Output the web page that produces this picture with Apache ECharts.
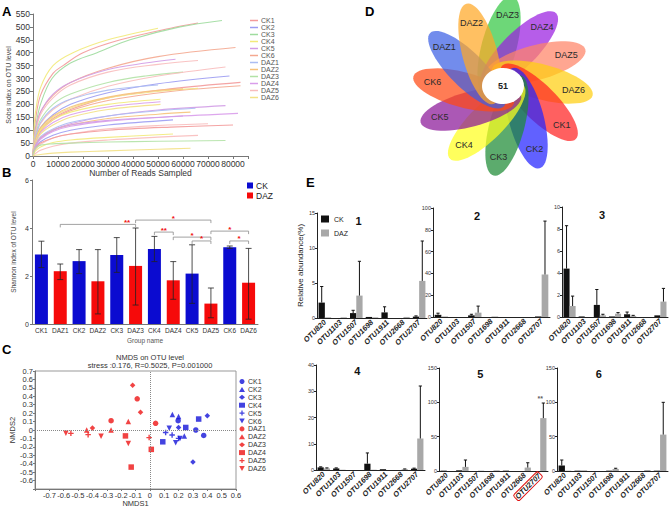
<!DOCTYPE html>
<html>
<head>
<meta charset="utf-8">
<script src="https://cdn.jsdelivr.net/npm/echarts@6/dist/echarts.min.js"></script>
<style>
  html, body { margin: 0; padding: 0; background: #fff; }
  #main { width: 669px; height: 507px; }
</style>
</head>
<body>
<div id="main"></div>
<script>
// ---- A: rarefaction curves ----
const GROUPS = ['CK1', 'CK2', 'CK3', 'CK4', 'CK5', 'CK6', 'DAZ1', 'DAZ2', 'DAZ3', 'DAZ4', 'DAZ5', 'DAZ6'];
const RARE_COLORS = ['#f39a9a', '#9c9cf2', '#9fdc9f', '#f2ea7a', '#d29ce6', '#f4a890',
  '#abbdf2', '#f6c27a', '#b2e2a6', '#d99deb', '#f8bcbc', '#f3e186'];
const RARE_CURVES = [
  ['CK1', [[0, 0], [500, 95], [1000, 140], [3000, 235], [8000, 320], [12000, 350], [20000, 400], [35000, 450], [55000, 495], [66000, 515]]],
  ['CK4', [[0, 0], [500, 120], [1000, 170], [3000, 265], [8000, 350], [16000, 400], [30000, 450], [50000, 495]]],
  ['CK3', [[0, 0], [500, 70], [1000, 110], [3000, 200], [7600, 300], [15000, 360], [25600, 400], [38800, 450], [58800, 500], [75600, 525]]],
  ['CK6', [[0, 0], [500, 65], [1000, 100], [3000, 170], [8000, 235], [15000, 285], [30000, 340], [50000, 385], [81000, 420]]],
  ['CK5', [[0, 0], [500, 65], [1000, 100], [3000, 170], [8000, 240], [15000, 285], [30000, 335], [45000, 360], [57000, 375]]],
  ['DAZ5', [[0, 0], [500, 58], [1000, 90], [3000, 160], [8000, 225], [15000, 275], [30000, 325], [50000, 355], [66000, 370]]],
  ['DAZ3', [[0, 0], [500, 52], [1000, 80], [3000, 140], [8000, 200], [15000, 240], [30000, 285], [45000, 310], [60000, 325]]],
  ['DAZ5', [[0, 0], [500, 45], [1000, 70], [3000, 125], [8000, 180], [15000, 220], [30000, 270], [50000, 310], [77000, 345]]],
  ['CK2', [[0, 0], [500, 38], [1000, 60], [3000, 110], [8000, 160], [15000, 200], [30000, 245], [50000, 280], [78600, 310]]],
  ['DAZ1', [[0, 0], [500, 45], [1000, 70], [3000, 130], [8000, 185], [15000, 220], [30000, 255], [50000, 275]]],
  ['CK1', [[0, 0], [500, 35], [1000, 55], [3000, 100], [8000, 145], [15000, 180], [30000, 225], [55000, 260], [83000, 285]]],
  ['CK6', [[0, 0], [500, 32], [1000, 50], [3000, 95], [8000, 140], [15000, 175], [30000, 215], [55000, 250], [83000, 272]]],
  ['DAZ6', [[0, 0], [500, 38], [1000, 60], [3000, 105], [8000, 150], [15000, 185], [30000, 225], [50000, 250], [66000, 262]]],
  ['DAZ2', [[0, 0], [500, 42], [1000, 65], [3000, 110], [8000, 155], [15000, 190], [30000, 228], [45000, 250], [60000, 260]]],
  ['CK4', [[0, 0], [500, 35], [1000, 55], [3000, 100], [8000, 140], [15000, 170], [30000, 200], [51000, 220]]],
  ['DAZ4', [[0, 0], [500, 32], [1000, 50], [3000, 90], [8000, 130], [15000, 160], [30000, 190], [51000, 210]]],
  ['DAZ6', [[0, 0], [500, 28], [1000, 45], [3000, 85], [8000, 120], [15000, 150], [30000, 180], [51000, 200]]],
  ['CK5', [[0, 0], [500, 25], [1000, 40], [3000, 70], [8000, 100], [15000, 125], [30000, 155], [50000, 178], [77000, 195]]],
  ['DAZ1', [[0, 0], [500, 25], [1000, 40], [3000, 75], [8000, 105], [15000, 130], [30000, 155], [50000, 175], [65000, 185]]],
  ['DAZ2', [[0, 0], [500, 25], [1000, 40], [3000, 70], [8000, 100], [15000, 120], [30000, 145], [50000, 162], [63000, 170]]],
  ['DAZ4', [[0, 0], [500, 22], [1000, 35], [3000, 65], [8000, 95], [15000, 115], [30000, 135], [55000, 152], [82000, 165]]],
  ['CK5', [[0, 0], [500, 25], [1000, 40], [3000, 70], [8000, 100], [15000, 120], [30000, 138], [60000, 155]]],
  ['CK2', [[0, 0], [500, 18], [1000, 30], [3000, 55], [8000, 80], [15000, 100], [30000, 120], [56000, 140]]],
  ['DAZ5', [[0, 0], [500, 15], [1000, 25], [3000, 45], [8000, 70], [15000, 85], [30000, 105], [50000, 118], [70000, 125]]],
  ['CK1', [[0, 0], [500, 18], [1000, 30], [3000, 50], [8000, 70], [15000, 85], [30000, 100], [55000, 112], [80000, 120]]],
  ['CK4', [[0, 0], [500, 12], [1000, 20], [3000, 35], [8000, 52], [15000, 62], [30000, 72], [56000, 85]]],
  ['DAZ5', [[0, 0], [500, 6], [1000, 10], [3000, 22], [8000, 38], [15000, 50], [30000, 62], [50000, 73], [66000, 80]]],
  ['DAZ3', [[0, 0], [500, 20], [1000, 30], [3000, 42], [8000, 47], [15000, 50], [30000, 54], [50000, 57], [77000, 60]]],
  ['DAZ6', [[0, 0], [500, 2], [1000, 3], [3000, 6], [8000, 11], [15000, 15], [30000, 20], [50000, 26], [63000, 30]]]
];

// ---- B: Shannon index ----
const B_CATS = ['CK1', 'DAZ1', 'CK2', 'DAZ2', 'CK3', 'DAZ3', 'CK4', 'DAZ4', 'CK5', 'DAZ5', 'CK6', 'DAZ6'];
const B_MEAN = [2.9, 2.2, 2.62, 1.78, 2.88, 2.42, 3.12, 1.82, 2.1, 0.85, 3.2, 1.72];
const B_LOW = [2.35, 1.85, 2.1, 0.42, 2.15, 0.79, 2.6, 1.03, 0.86, 0.26, 3.15, 0.2];
const B_HIGH = [3.45, 2.5, 3.1, 3.1, 3.6, 4.0, 3.65, 2.6, 3.3, 1.5, 3.25, 3.15];
// [from category, to category, level, label position, mark]
const B_SIG = [
  [1, 5, 4.15, 4.55, '**'],
  [5, 9, 4.33, 7.0, '*'],
  [6, 7, 3.83, 6.5, '**'],
  [7, 9, 3.62, 8.0, '*'],
  [8, 9, 3.46, 8.5, '*'],
  [9, 11, 3.87, 10.0, '*'],
  [10, 11, 3.46, 10.5, '*']
];

// ---- C: NMDS ----
const NMDS_GROUPS = GROUPS;
const NMDS_POINTS = [
  [[0.197, 0.11], [0.32, 0.0], [0.375, -0.065]],
  [[0.157, 0.185], [0.2, 0.16], [0.24, -0.07]],
  [[0.4, 0.17], [0.2, 0.03], [0.3, -0.38]],
  [[0.34, 0.13], [0.25, 0.03], [0.09, -0.14]],
  [[0.11, -0.03], [0.155, -0.06], [0.2, -0.1]],
  [[0.135, 0.02], [0.18, -0.15], [0.21, -0.1]],
  [[-0.088, 0.37], [-0.27, 0.11], [0.04, 0.08]],
  [[-0.44, 0.0], [-0.27, 0.0], [-0.15, 0.1]],
  [[-0.12, 0.53], [-0.065, 0.21], [-0.4, 0.025]],
  [[-0.17, -0.07], [-0.13, -0.44], [0.01, -0.23]],
  [[-0.55, -0.04], [-0.43, -0.055], [-0.005, -0.09]],
  [[-0.585, -0.04], [-0.34, -0.075], [-0.15, -0.16]]
];
const NMDS_SYMBOLS = ['circle', 'triangle', 'diamond', 'rect',
  'path://M3,0h2v3h3v2h-3v3h-2v-3h-3v-2h3z', 'path://M0,0h10l-5,9z'];
const NMDS_TITLE = 'NMDS on OTU level';
const NMDS_STATS = 'stress :0.176, R=0.5025, P=0.001000';

// ---- D: flower diagram ----
const PETALS = ['DAZ3', 'DAZ4', 'DAZ5', 'DAZ6', 'CK1', 'CK2', 'CK3', 'CK4', 'CK5', 'CK6', 'DAZ1', 'DAZ2'];
const PETAL_COLORS = ['#35c844', '#9a1ee0', '#ff8466', '#ffcf10', '#ff2222', '#2424ff',
  '#1d8a34', '#ffff1e', '#8a1898', '#ff4a14', '#3c5fe4', '#ffa726'];
const CORE_OTUS = 51;

// ---- E: relative abundance of OTUs ----
const OTUS = ['OTU820', 'OTU1103', 'OTU1507', 'OTU1698', 'OTU1911', 'OTU2668', 'OTU2707'];
const E1_CK = [2.2, 0, 0.7, 0.15, 0.8, 0, 0.2];
const E1_CK_ERR = [4.5, null, 1.1, null, 1.6, null, 0.3];
const E1_DAZ = [0.1, 0.1, 3.2, 0.1, 0, 0.15, 5.3];
const E1_DAZ_ERR = [null, null, 8.1, null, null, null, 11];
const E2_CK = [2, 0, 1.5, 0, 0, 0, 0.5];
const E2_CK_ERR = [3.5, null, 2.5, null, null, null, null];
const E2_DAZ = [0.5, 0, 4, 0.5, 0, 0, 39];
const E2_DAZ_ERR = [null, null, 10, null, null, null, 88];
const E3_CK = [4.4, 0.05, 1.1, 0.05, 0.25, 0, 0.15];
const E3_CK_ERR = [8.3, null, 2.5, null, 0.45, null, null];
const E3_DAZ = [1.0, 0, 0.15, 0.3, 0.1, 0, 1.4];
const E3_DAZ_ERR = [1.9, null, 0.25, 0.4, 0.15, null, 2.6];
const E4_CK = [1, 0.6, 0, 2.4, 0.3, 0, 0.5];
const E4_CK_ERR = [1.2, 0.8, null, 6.5, null, null, 0.7];
const E4_DAZ = [0.6, 0.1, 0, 0.1, 0, 0.3, 12];
const E4_DAZ_ERR = [0.8, null, null, null, null, 0.4, 32];
const E5_CK = [0.5, 1, 0, 0, 0.5, 0, 0];
const E5_CK_ERR = [null, null, null, null, null, null, null];
const E5_DAZ = [0, 6, 0.5, 1, 0, 5, 77];
const E5_DAZ_ERR = [null, 16, null, null, null, 12, 99];
const E6_CK = [8, 0.5, 0, 0.5, 0, 0, 0.5];
const E6_CK_ERR = [16, null, null, null, null, null, null];
const E6_DAZ = [0.5, 1, 0, 3, 0, 1.5, 53];
const E6_DAZ_ERR = [null, null, null, 4, null, null, 100];
const E5_SIG = [[6, 106, '**']];
const E5_FLAG = 'OTU2707';

const FONT = '"Liberation Sans", Arial, sans-serif';
const chart = echarts.init(document.getElementById('main'), null, { renderer: 'svg' });

const E_PANELS = [
  { title: '1', ck: E1_CK, ckErr: E1_CK_ERR, daz: E1_DAZ, dazErr: E1_DAZ_ERR, max: 15, step: 5, box: [317, 213, 110, 105] },
  { title: '2', ck: E2_CK, ckErr: E2_CK_ERR, daz: E2_DAZ, dazErr: E2_DAZ_ERR, max: 100, step: 20, box: [433, 208, 117, 109] },
  { title: '3', ck: E3_CK, ckErr: E3_CK_ERR, daz: E3_DAZ, dazErr: E3_DAZ_ERR, max: 10, step: 2, box: [562, 207, 106, 110] },
  { title: '4', ck: E4_CK, ckErr: E4_CK_ERR, daz: E4_DAZ, dazErr: E4_DAZ_ERR, max: 40, step: 10, box: [316, 365, 109, 105] },
  { title: '5', ck: E5_CK, ckErr: E5_CK_ERR, daz: E5_DAZ, dazErr: E5_DAZ_ERR, max: 150, step: 50, box: [439, 368, 109, 103] },
  { title: '6', ck: E6_CK, ckErr: E6_CK_ERR, daz: E6_DAZ, dazErr: E6_DAZ_ERR, max: 150, step: 50, box: [557, 368, 111, 103] }
];

function gridAt(left, top, width, height, extra) {
  return Object.assign({ left, top, width, height, containLabel: false, outerBoundsMode: 'none' }, extra || {});
}

function line(color, width) {
  return { lineStyle: { color: color, width: width || 1 } };
}

// error bar with caps (B: both directions)
function barErr(params, api) {
  const i = api.value(0);
  const x = api.coord([i, 0])[0];
  const lo = api.coord([i, api.value(1)])[1];
  const hi = api.coord([i, api.value(2)])[1];
  const c = 3;
  const st = { stroke: '#222', lineWidth: 0.8 };
  return {
    type: 'group',
    children: [
      { type: 'line', shape: { x1: x, y1: lo, x2: x, y2: hi }, style: st },
      { type: 'line', shape: { x1: x - c, y1: hi, x2: x + c, y2: hi }, style: st },
      { type: 'line', shape: { x1: x - c, y1: lo, x2: x + c, y2: lo }, style: st }
    ]
  };
}

function sigBracket(params, api) {
  const s = B_SIG[params.dataIndex];
  const band = api.size([1, 0])[0];
  const x0 = api.coord([0, 0])[0];
  const y = api.coord([0, s[2]])[1];
  const xa = x0 + s[0] * band, xb = x0 + s[1] * band;
  const st = { stroke: '#8a8a8a', lineWidth: 0.8, fill: null };
  return {
    type: 'group',
    children: [
      { type: 'polyline', shape: { points: [[xa, y + 3], [xa, y], [xb, y], [xb, y + 3]] }, style: st },
      { type: 'text', x: x0 + s[3] * band, y: y + 2, style: { text: s[4], fill: '#f01010', align: 'center', verticalAlign: 'bottom', font: 'bold 8px ' + FONT } }
    ]
  };
}

// upward error bar for grouped bars (E)
function groupErr(params, api) {
  const i = api.value(0), side = api.value(3);
  const band = api.size([1, 0])[0];
  const x = api.coord([i, 0])[0] + side * band * 0.2;
  const y0 = api.coord([i, api.value(1)])[1];
  const y1 = api.coord([i, api.value(2)])[1];
  const c = 1.6;
  const st = { stroke: '#111', lineWidth: 1 };
  return {
    type: 'group',
    children: [
      { type: 'line', shape: { x1: x, y1: y0, x2: x, y2: y1 }, style: st },
      { type: 'line', shape: { x1: x - c, y1: y1, x2: x + c, y2: y1 }, style: st }
    ]
  };
}

const FLOWER_C = [503, 86];
function petalPoints(i) {
  const phi = (75 - 30 * i) * Math.PI / 180;
  const ux = Math.cos(phi), uy = -Math.sin(phi);
  const nx = Math.cos(phi + Math.PI / 2), ny = -Math.sin(phi + Math.PI / 2);
  const a = 52, b = 17.5, off = 14;
  const cx = FLOWER_C[0] + (a - 15) * ux + off * nx;
  const cy = FLOWER_C[1] + (a - 15) * uy + off * ny;
  const pts = [];
  for (let k = 0; k < 60; k++) {
    const t = k / 60 * Math.PI * 2;
    const ex = a * Math.cos(t), ey = b * Math.sin(t);
    pts.push([cx + ex * ux + ey * nx, cy + ex * uy + ey * ny]);
  }
  return { pts, label: [cx + 0.62 * a * ux, cy + 0.62 * a * uy] };
}

const legendFmt = (name) => name.replace(/^[BCE]:/, '');
const tenth = (v) => (Math.abs(v) < 1e-9 ? '0' : String(+v.toFixed(1)));

const grids = [
  gridAt(33, 14, 215, 142),
  gridAt(32, 180, 226, 144),
  gridAt(35, 371, 201, 118, { show: true, borderColor: '#999', borderWidth: 1 })
].concat(E_PANELS.map((p) => gridAt(p.box[0], p.box[1], p.box[2], p.box[3])));

const xAxes = [
  {
    type: 'value', gridIndex: 0, min: 0, max: 86000, interval: 10000,
    axisLine: line('#777'), axisTick: { length: 3, lineStyle: { color: '#777' } }, splitLine: { show: false },
    axisLabel: { fontSize: 8.5, color: '#333', margin: 3, formatter: (v) => (v > 80000 ? '' : String(v)) },
    name: 'Number of Reads Sampled', nameLocation: 'middle', nameGap: 11,
    nameTextStyle: { fontSize: 8.5, color: '#333' }
  },
  {
    type: 'category', gridIndex: 1, data: B_CATS,
    axisLine: line('#777'), axisTick: { alignWithLabel: true, length: 2, lineStyle: { color: '#777' } },
    axisLabel: { fontSize: 6.5, color: '#333', margin: 3, interval: 0 },
    name: 'Group name', nameLocation: 'middle', nameGap: 13,
    nameTextStyle: { fontSize: 6.5, color: '#555' }
  },
  {
    type: 'value', gridIndex: 2, min: -0.8, max: 0.6, interval: 0.1,
    axisLine: { onZero: false, lineStyle: { color: '#777' } }, axisTick: { length: 2, lineStyle: { color: '#777' } },
    splitLine: { show: false },
    axisLabel: { fontSize: 7.5, color: '#333', margin: 2, formatter: (v) => (v < -0.75 ? '' : tenth(v)) },
    name: 'NMDS1', nameLocation: 'middle', nameGap: 8, nameTextStyle: { fontSize: 7.5, color: '#333' }
  }
].concat(E_PANELS.map((p, k) => ({
  type: 'category', gridIndex: 3 + k,
  data: OTUS.map((o) => (k === 4 && o === E5_FLAG
    ? { value: o, textStyle: { borderColor: '#e01010', borderWidth: 1, borderRadius: 2, padding: [0, 1, 0, 1] } }
    : o)),
  axisLine: line('#222'), axisTick: { length: 2, lineStyle: { color: '#222' } },
  axisLabel: { rotate: 45, interval: 0, fontSize: 7.5, fontStyle: 'italic', fontWeight: 'bold', color: '#222', margin: 3 }
})));

const yAxes = [
  {
    type: 'value', gridIndex: 0, min: 0, max: 550, interval: 50,
    axisLine: { show: true, lineStyle: { color: '#777' } }, axisTick: { show: true, length: 3, lineStyle: { color: '#777' } },
    splitLine: { show: false }, axisLabel: { fontSize: 8.5, color: '#333', margin: 3 },
    name: 'Sobs index on OTU level', nameLocation: 'middle', nameGap: 20,
    nameTextStyle: { fontSize: 7, color: '#444' }
  },
  {
    type: 'value', gridIndex: 1, min: 0, max: 6, interval: 2,
    axisLine: { show: true, lineStyle: { color: '#777' } }, axisTick: { show: true, length: 2, lineStyle: { color: '#777' } },
    splitLine: { show: false }, axisLabel: { fontSize: 7, color: '#333', margin: 3 },
    name: 'Shannon index of OTU level', nameLocation: 'middle', nameGap: 15,
    nameTextStyle: { fontSize: 6.5, color: '#444' }
  },
  {
    type: 'value', gridIndex: 2, min: -0.7, max: 0.7, interval: 0.1,
    axisLine: { show: true, onZero: false, lineStyle: { color: '#777' } }, axisTick: { show: true, length: 2, lineStyle: { color: '#777' } },
    splitLine: { show: false },
    axisLabel: { fontSize: 7.5, color: '#333', margin: 2, formatter: (v) => (v < -0.65 ? '' : tenth(v)) },
    name: 'NMDS2', nameLocation: 'middle', nameGap: 19, nameTextStyle: { fontSize: 7.5, color: '#333' }
  }
].concat(E_PANELS.map((p, k) => Object.assign({
  type: 'value', gridIndex: 3 + k, min: 0, max: p.max, interval: p.step,
  axisLine: { show: true, lineStyle: { color: '#222' } }, axisTick: { show: true, length: 2, lineStyle: { color: '#222' } },
  splitLine: { show: false }, axisLabel: { fontSize: 5.5, color: '#333', margin: 2 }
}, k === 0 ? {
  name: 'Relative abundance(%)', nameLocation: 'middle', nameGap: 12,
  nameTextStyle: { fontSize: 8, color: '#222' }
} : {})));

const series = [];

// A
RARE_CURVES.forEach(([g, pts]) => {
  const c = RARE_COLORS[GROUPS.indexOf(g)];
  series.push({
    type: 'line', name: g, xAxisIndex: 0, yAxisIndex: 0, data: pts,
    smooth: 0.35, symbol: 'none', showSymbol: false, silent: true,
    itemStyle: { color: c }, lineStyle: { color: c, width: 1.1, opacity: 0.9 }
  });
});

// B
series.push({
  type: 'bar', name: 'B:CK', xAxisIndex: 1, yAxisIndex: 1, barWidth: 13, barGap: '-100%',
  itemStyle: { color: '#0b0bd0' },
  data: B_CATS.map((c, i) => (c.startsWith('CK') ? B_MEAN[i] : '-'))
});
series.push({
  type: 'bar', name: 'B:DAZ', xAxisIndex: 1, yAxisIndex: 1, barWidth: 13, barGap: '-100%',
  itemStyle: { color: '#f60a0a' },
  data: B_CATS.map((c, i) => (c.startsWith('DAZ') ? B_MEAN[i] : '-'))
});
series.push({
  type: 'custom', xAxisIndex: 1, yAxisIndex: 1, z: 5, silent: true, renderItem: barErr,
  data: B_CATS.map((c, i) => [i, B_LOW[i], B_HIGH[i]])
});
series.push({
  type: 'custom', xAxisIndex: 1, yAxisIndex: 1, z: 5, silent: true, renderItem: sigBracket,
  data: B_SIG.map((s) => [s[0], s[2]])
});

// C
NMDS_GROUPS.forEach((g, k) => {
  const s = {
    type: 'scatter', name: 'C:' + g, xAxisIndex: 2, yAxisIndex: 2,
    symbol: NMDS_SYMBOLS[k % 6], symbolSize: 5.5,
    itemStyle: { color: k < 6 ? '#1414d8' : '#ee1414' },
    data: NMDS_POINTS[k]
  };
  if (k === 0) {
    s.markLine = {
      silent: true, symbol: 'none', label: { show: false },
      lineStyle: { color: '#888', type: 'dotted', width: 1 },
      data: [{ xAxis: 0 }, { yAxis: 0 }]
    };
  }
  series.push(s);
});

// E
E_PANELS.forEach((p, k) => {
  const gi = 3 + k;
  series.push({
    type: 'bar', name: 'E:CK', xAxisIndex: gi, yAxisIndex: gi, barGap: 0, barCategoryGap: '20%',
    itemStyle: { color: '#111' }, data: p.ck
  });
  series.push({
    type: 'bar', name: 'E:DAZ', xAxisIndex: gi, yAxisIndex: gi, barGap: 0, barCategoryGap: '20%',
    itemStyle: { color: '#a8a8a8' }, data: p.daz
  });
  const errs = [];
  p.ckErr.forEach((t, i) => { if (t != null) errs.push([i, p.ck[i], t, -1]); });
  p.dazErr.forEach((t, i) => { if (t != null) errs.push([i, p.daz[i], t, 1]); });
  series.push({
    type: 'custom', xAxisIndex: gi, yAxisIndex: gi, z: 5, silent: true, renderItem: groupErr, data: errs
  });
});
series.push({
  type: 'scatter', xAxisIndex: 7, yAxisIndex: 7, symbolSize: 1, itemStyle: { color: 'transparent' },
  label: { show: true, position: 'inside', formatter: (d) => d.data[2], fontSize: 7, fontWeight: 'bold', color: '#333' },
  data: E5_SIG
});

// D
series.push({
  type: 'custom', coordinateSystem: 'none', silent: true, z: 2,
  data: PETALS.map((n, i) => i),
  renderItem: (params) => {
    const p = petalPoints(params.dataIndex);
    return { type: 'polygon', shape: { points: p.pts }, style: { fill: PETAL_COLORS[params.dataIndex], opacity: 0.72 } };
  }
});
series.push({
  type: 'custom', coordinateSystem: 'none', silent: true, z: 3,
  data: PETALS.map((n, i) => i),
  renderItem: (params) => {
    const p = petalPoints(params.dataIndex);
    return {
      type: 'text', x: p.label[0], y: p.label[1],
      style: { text: PETALS[params.dataIndex], fill: '#2b2b2b', font: '9px ' + FONT, align: 'center', verticalAlign: 'middle' }
    };
  }
});
series.push({
  type: 'custom', coordinateSystem: 'none', silent: true, z: 4,
  data: [CORE_OTUS],
  renderItem: (params, api) => ({
    type: 'group',
    children: [
      { type: 'ellipse', shape: { cx: FLOWER_C[0], cy: FLOWER_C[1], rx: 21, ry: 18 }, style: { fill: '#fff' } },
      { type: 'text', x: FLOWER_C[0], y: FLOWER_C[1], style: { text: String(api.value(0)), fill: '#222', font: 'bold 9px ' + FONT, align: 'center', verticalAlign: 'middle' } }
    ]
  })
});

const letters = [['A', 2, 5], ['B', 2, 166], ['C', 2, 343], ['D', 365, 5], ['E', 306, 176]];
const graphic = letters.map(([t, x, y]) => ({
  type: 'text', left: x, top: y, silent: true,
  style: { text: t, fill: '#000', font: 'bold 13px ' + FONT }
})).concat(E_PANELS.map((p) => ({
  type: 'text', silent: true,
  left: p.box[0] + p.box[2] * 0.35, top: p.box[1] + (p.box[1] > 300 ? 0 : 2),
  style: { text: p.title, fill: '#111', font: 'bold 11px ' + FONT }
})));

chart.setOption({
  animation: false,
  textStyle: { fontFamily: FONT },
  grid: grids,
  xAxis: xAxes,
  yAxis: yAxes,
  title: [{
    text: NMDS_TITLE, subtext: NMDS_STATS, left: 150, top: 353, textAlign: 'center', itemGap: 0, padding: 0,
    textStyle: { fontSize: 7.5, fontWeight: 'normal', color: '#333' },
    subtextStyle: { fontSize: 7.5, color: '#333' }
  }],
  legend: [
    {
      data: GROUPS, left: 250, top: 17, orient: 'vertical', padding: 0, itemGap: 0, selectedMode: false,
      icon: 'rect', itemWidth: 8, itemHeight: 1.5,
      textStyle: { fontSize: 7, color: '#555', lineHeight: 5.8, padding: [0, 0, 0, -2] }
    },
    {
      data: ['B:CK', 'B:DAZ'], formatter: legendFmt, left: 247, top: 181, orient: 'vertical', padding: 0, itemGap: 1,
      selectedMode: false, icon: 'rect', itemWidth: 6, itemHeight: 6,
      textStyle: { fontSize: 8.5, color: '#222', lineHeight: 7, padding: [0, 0, 0, -2] }
    },
    {
      data: NMDS_GROUPS.map((g, k) => ({ name: 'C:' + g, icon: NMDS_SYMBOLS[k % 6] })), formatter: legendFmt,
      left: 239, top: 378, orient: 'vertical', padding: 0, itemGap: 0.9, selectedMode: false,
      itemWidth: 6, itemHeight: 5,
      textStyle: { fontSize: 7, color: '#333', lineHeight: 5, padding: [0, 0, 0, -2] }
    },
    {
      data: ['E:CK', 'E:DAZ'], formatter: legendFmt, left: 321, top: 215, orient: 'vertical', padding: 0, itemGap: 6,
      selectedMode: false, icon: 'rect', itemWidth: 8, itemHeight: 7,
      textStyle: { fontSize: 7, color: '#222', lineHeight: 8 }
    }
  ],
  graphic: graphic,
  series: series
});
</script>
</body>
</html>
